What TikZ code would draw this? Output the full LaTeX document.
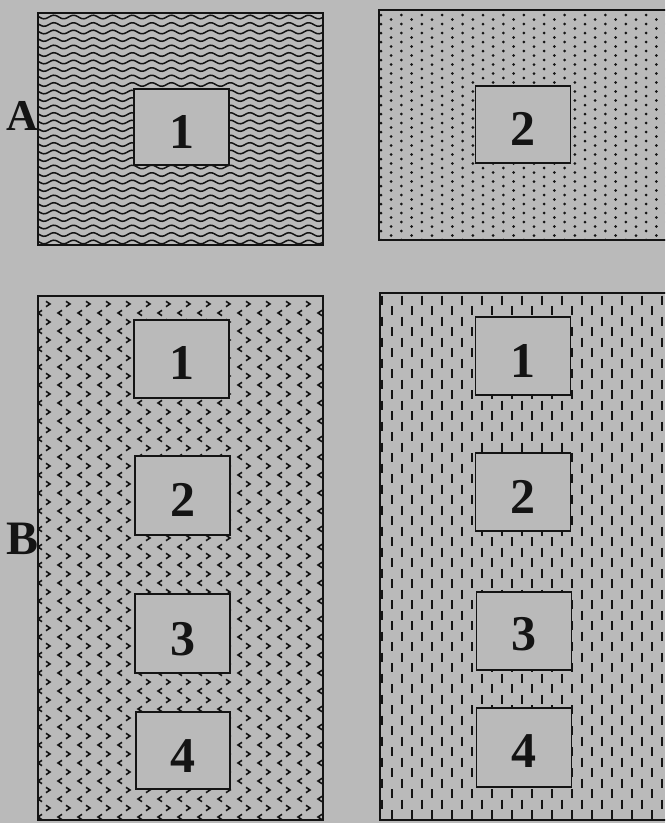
\documentclass[tikz,border=0pt]{standalone}
\usepackage{fontspec}
\setmainfont{Liberation Serif}
\definecolor{bg}{RGB}{186,186,186}
\definecolor{ink}{RGB}{20,20,20}
\begin{document}
\begin{tikzpicture}[x=1pt,y=-1pt,
  panel/.style={draw=ink, line width=1.6pt},
  inbox/.style={draw=ink, line width=1.6pt, fill=bg, minimum width=95pt, minimum height=77pt, inner sep=0pt},
  digit/.style={font=\fontsize{50}{50}\selectfont\bfseries, text=ink, inner sep=0pt},
  side/.style={font=\fontsize{44}{44}\selectfont\bfseries, text=ink, inner sep=0pt},
  wave/.style={draw=ink, line width=1.5pt},
  chev/.style={draw=ink, line width=1.6pt},
  vdash/.style={draw=ink, line width=2.5pt},
  dotmark/.style={fill=ink}]
\useasboundingbox (0,0) rectangle (665,823);
\fill[bg] (0,0) rectangle (665,823);
\clip (0,0) rectangle (665,823);

% ---------- Panel A left: waves ----------
\begin{scope}
\clip (38,13) rectangle (323,245);
\foreach \r in {0,...,30} {
  \pgfmathsetmacro\yy{17+7.5*\r}
  \draw[wave] plot[domain=38:323, samples=150, variable=\t] (\t, {\yy+1.8*sin(\t*18.3673)});
}
\end{scope}
\draw[panel] (38,13) rectangle (323,245);

% ---------- Panel A right: dots ----------
\begin{scope}
\clip (379,10) rectangle (680,240);
\foreach \c in {0,...,29} {
  \foreach \r in {0,...,26} {
    \pgfmathsetmacro\xx{381+10.2*\c}
    \pgfmathsetmacro\yy{15+9*\r+4.5*mod(\c,2)}
    \fill[dotmark] (\xx,\yy) circle (1.5pt);
  }
}
\end{scope}
\draw[panel] (379,10) rectangle (680,240);

% ---------- Panel B left: chevrons ----------
\begin{scope}
\clip (38,296) rectangle (323,820);
\foreach \r in {0,...,58} {
  \foreach \c in {0,...,14} {
    \pgfmathsetmacro\yy{304+9*\r}
    \ifodd\r
      \pgfmathsetmacro\xx{40+20*\c}
      \draw[chev] (\xx+2,\yy-2.7) -- (\xx-2,\yy) -- (\xx+2,\yy+2.7);
    \else
      \pgfmathsetmacro\xx{48+20*\c}
      \draw[chev] (\xx-2,\yy-2.7) -- (\xx+2,\yy) -- (\xx-2,\yy+2.7);
    \fi
  }
}
\end{scope}
\draw[panel] (38,296) rectangle (323,820);

% ---------- Panel B right: vertical dashes ----------
\begin{scope}
\clip (380,293) rectangle (680,820);
\foreach \c in {0,...,29} {
  \foreach \k in {0,...,25} {
    \pgfmathsetmacro\xx{382+10*\c}
    \pgfmathsetmacro\yy{300+21*\k+10.5*mod(\c,2)}
    \draw[vdash] (\xx,\yy-4.5) -- (\xx,\yy+4.5);
  }
}
\end{scope}
\draw[panel] (380,293) rectangle (680,820);

% ---------- inner boxes and digits ----------
\node[inbox, minimum height=76pt] (a1) at (181.5,127) {};
\node[digit] (a1t) at ([yshift=-5pt]a1.center) {1};
\node[inbox, minimum height=77pt] (a2) at (523,124.5) {};
\node[digit] (a2t) at ([yshift=-4pt]a2.center) {2};

\node[inbox, minimum height=78pt] (bl1) at (181.5,359) {};
\node[digit] (bl1t) at ([yshift=-4pt]bl1.center) {1};
\node[inbox, minimum height=79pt] (bl2) at (182.5,495.5) {};
\node[digit] (bl2t) at ([yshift=-4.5pt]bl2.center) {2};
\node[inbox, minimum height=79pt] (bl3) at (182.5,633.5) {};
\node[digit] (bl3t) at ([yshift=-6pt]bl3.center) {3};
\node[inbox, minimum height=77pt, minimum width=94pt] (bl4) at (183,750.5) {};
\node[digit] (bl4t) at ([yshift=-6pt]bl4.center) {4};

\node[inbox, minimum height=78pt] (br1) at (523,356) {};
\node[digit] (br1t) at ([yshift=-5pt]br1.center) {1};
\node[inbox, minimum height=78pt] (br2) at (523,492) {};
\node[digit] (br2t) at ([yshift=-5pt]br2.center) {2};
\node[inbox, minimum height=78pt] (br3) at (524,631) {};
\node[digit] (br3t) at ([yshift=-3pt]br3.center) {3};
\node[inbox, minimum height=79pt] (br4) at (524,747.5) {};
\node[digit] (br4t) at ([yshift=-4pt]br4.center) {4};

% ---------- side labels ----------
\node[side] (labA) at (22,116) {A};
\node[side, font=\fontsize{48}{48}\selectfont\bfseries] (labB) at (23,539) {B};
\end{tikzpicture}
\end{document}
